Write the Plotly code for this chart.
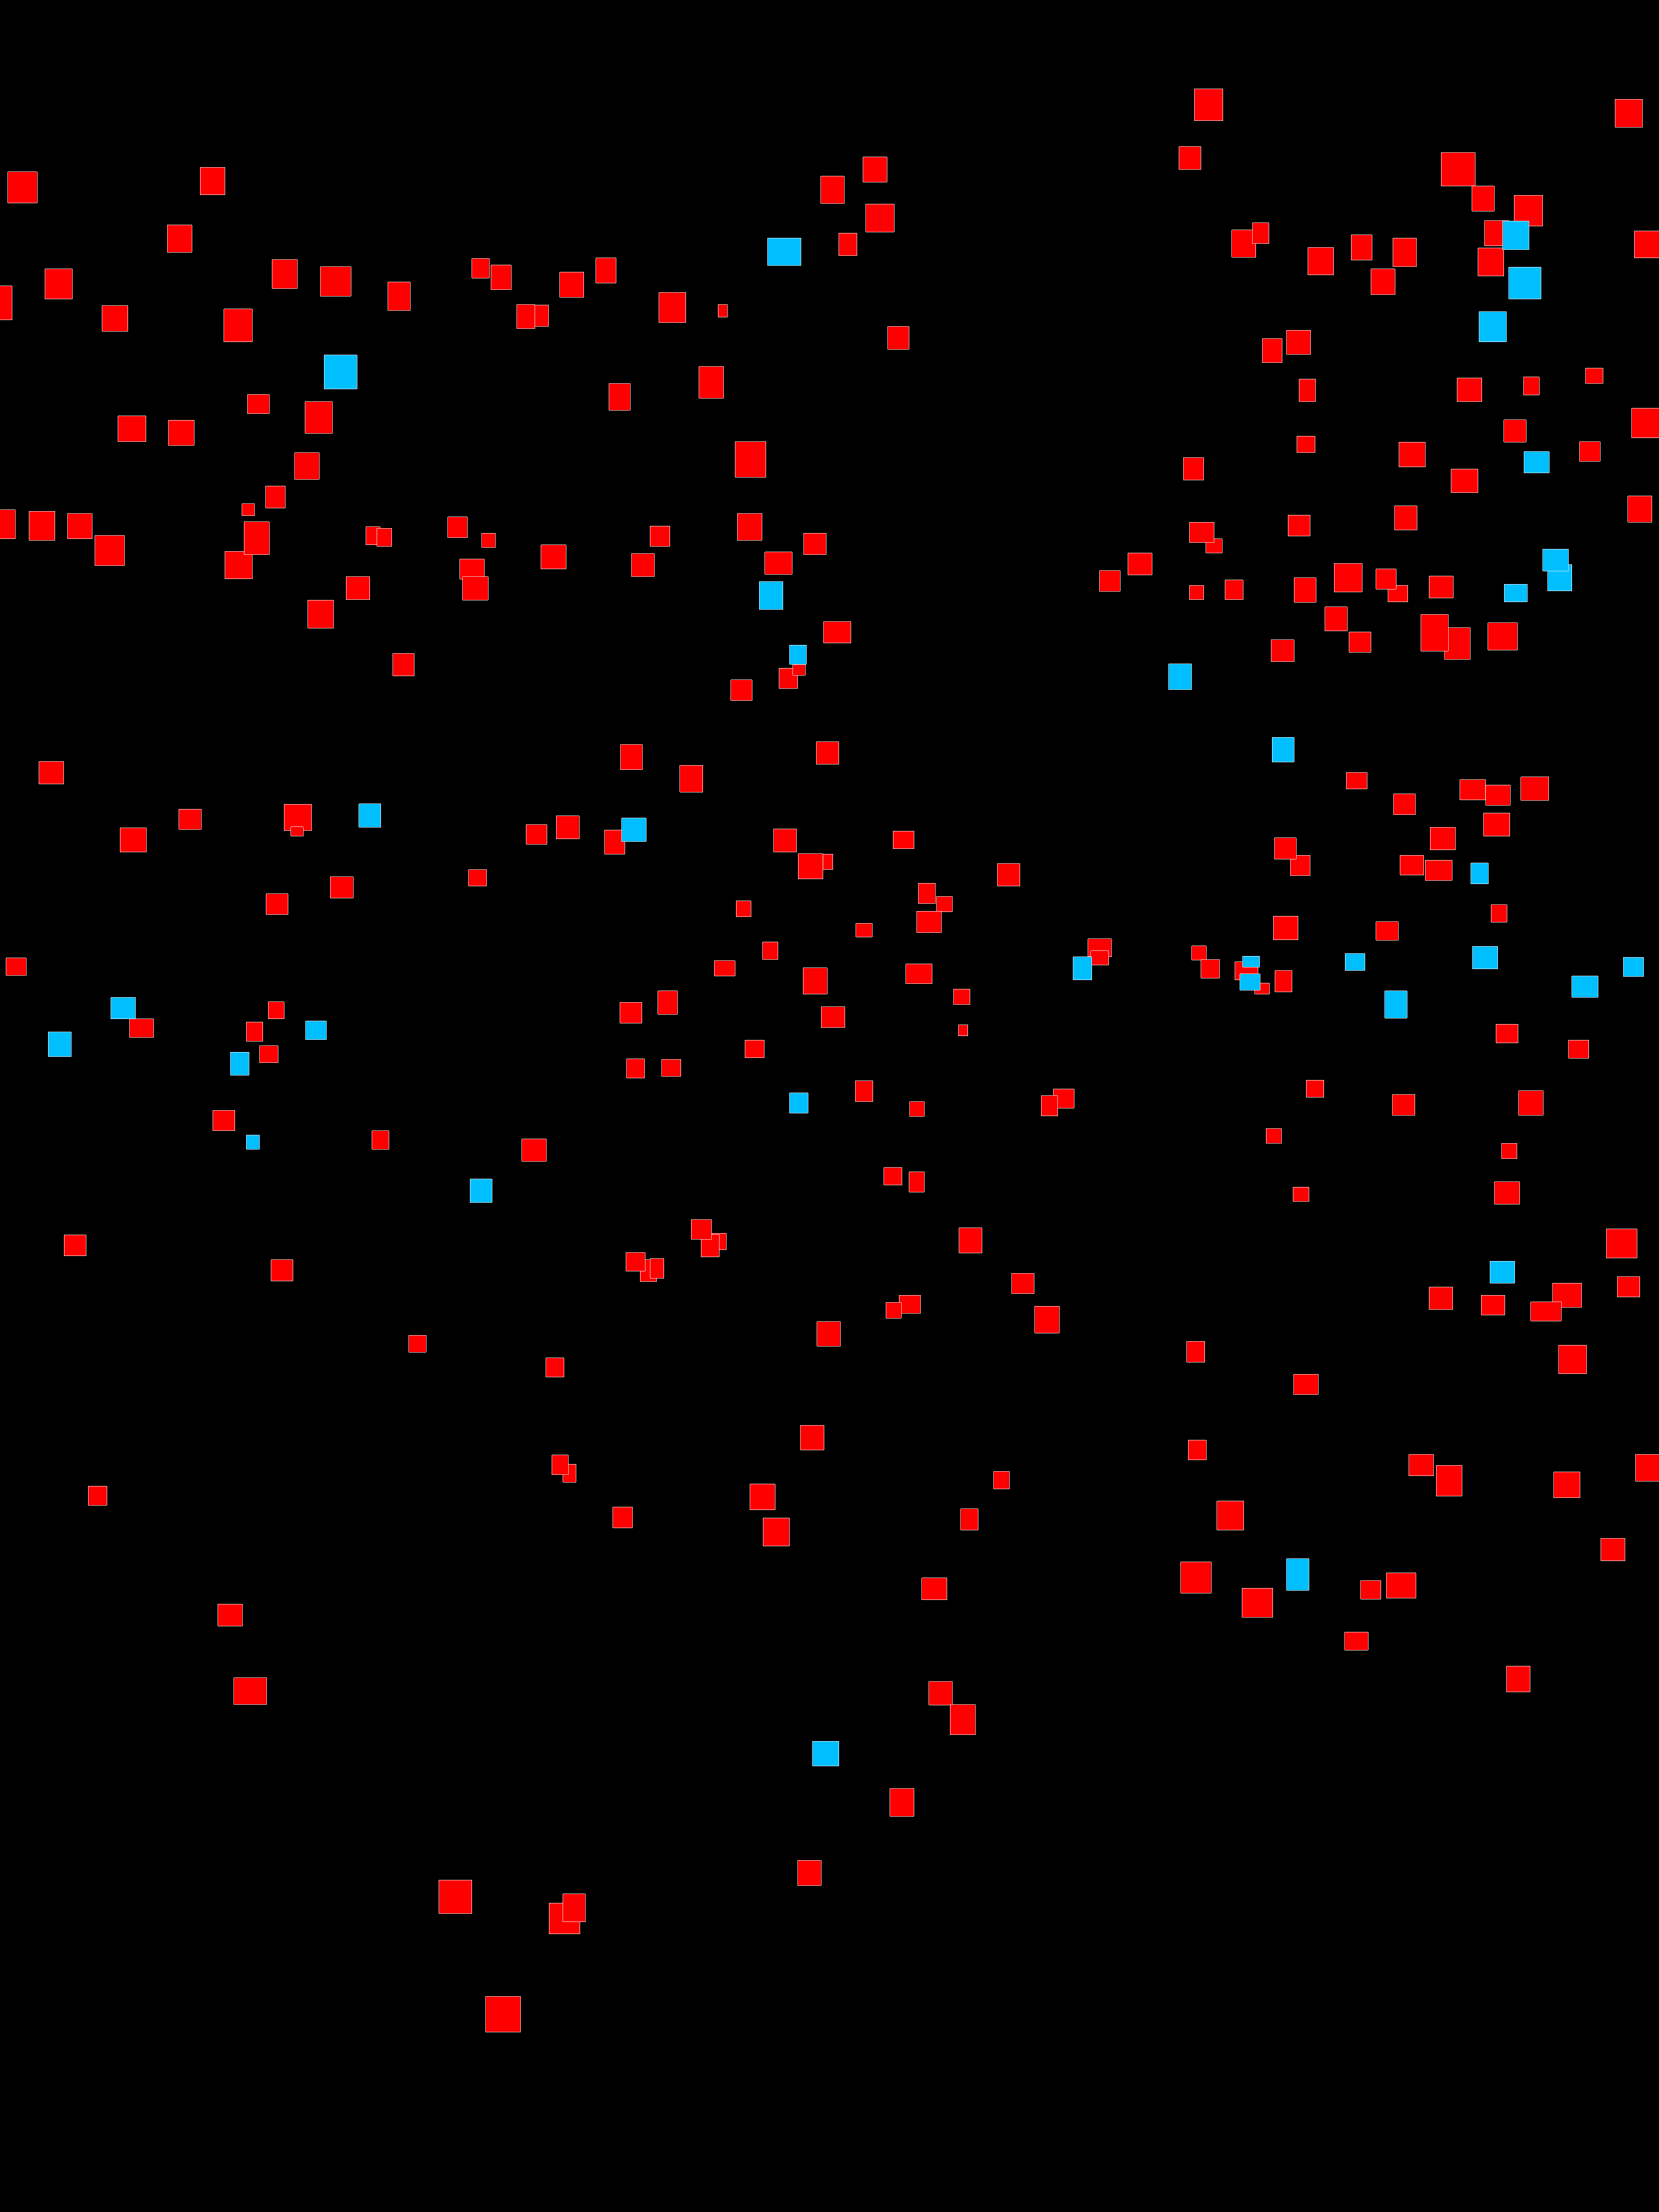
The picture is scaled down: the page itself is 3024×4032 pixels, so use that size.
import plotly.graph_objects as go

# ---- data: rectangles as (left, right, top, bottom) in chart units ----
red_left = [14, 365, 305, 82, -20, 186, 408, 496, 584, 707, 860, 895, 965, 942, 451, 556, 215, 307, 537, 484, 441,
            1573, 1496, 1578, 1529, 1086, 1020, 1201, 1309, 1618, 1274, 1110, 1340,
            2177, 2944, 2149, 2627, 2683, 2760, 2706, 2979, 2245, 2283, 2384, 2463, 2539, 2499, 2694, 2301, 2345,
            2368, 2656, 2777, 2890, 2974, 2741, 2879, 2364, 2550, 2157, 2645, 2967, 2542,
            -17, 53, 123, 173, 410, 445, 667, 687, 816, 878, 986, 838, 843, 631, 561, 716, 71, 326, 219, 518, 530,
            959, 854, 602, 485, 11, 489,
            1185, 1344, 1465, 1151, 1394, 2004, 1501, 1420, 1445, 1332, 1131, 1239, 1488, 1014, 1102, 1410, 1628,
            1500, 1455, 1818, 1674, 1707, 1671, 1342, 1560, 1390, 1302, 1464, 1651, 1983, 1988, 1738, 1130, 1199, 1497,
            2198, 2168, 2348, 2056, 2168, 2233, 2359, 2432, 2530, 2508, 2605, 2415, 2459, 2317, 2633, 2590, 2712,
            2454, 2540, 2661, 2708, 2772, 2704, 2607, 2352, 2323, 2552, 2598, 2718, 2321, 2508, 2172, 2189, 2251,
            2287, 2324,
            236, 449, 473, 1358, 1142, 1206, 388, 678, 951, 117, 494, 1298, 1278, 1260, 1167, 1141, 1185, 1489, 745,
            995, 1459, 1026, 1006, 161, 1367, 1117, 1391,
            1747, 2727, 2859, 1559, 1658, 1920, 1898, 2381, 2538, 2768, 2308, 2737, 1611, 1657, 2357, 2724, 1748,
            2928, 1844, 1639, 1615, 1886, 2605, 2700, 2830, 2790, 2948, 2163, 2358, 2841, 2166, 1811, 2568, 2618,
            2832, 2981, 2218, 1751,
            2918, 1680, 2152, 2264, 2480, 2527, 397, 2451, 2746, 426, 1693, 1732, 1622, 1454, 800, 1001, 1026, 885]
red_right = [68, 410, 350, 132, 22, 233, 460, 542, 640, 748, 892, 932, 1000, 975, 491, 606, 266, 354, 582, 520, 464,
             1617, 1539, 1630, 1562, 1123, 1064, 1250, 1326, 1657, 1319, 1149, 1396,
             2229, 2994, 2189, 2689, 2724, 2812, 2751, 3030, 2289, 2313, 2431, 2501, 2582, 2543, 2741, 2337, 2389,
             2398, 2701, 2806, 2922, 3030, 2782, 2917, 2397, 2598, 2194, 2694, 3011, 2583,
             28, 100, 168, 227, 460, 491, 693, 714, 852, 903, 1032, 883, 890, 674, 608, 755, 116, 367, 267, 568, 553,
             997, 887, 644, 525, 48, 518,
             1221, 1389, 1506, 1193, 1444, 2042, 1551, 1454, 1468, 1371, 1171, 1281, 1529, 1056, 1139, 1452, 1666,
             1518, 1500, 1859, 1705, 1736, 1716, 1369, 1590, 1418, 1340, 1508, 1699, 2026, 2021, 1768, 1170, 1235, 1540,
             2228, 2213, 2388, 2100, 2194, 2266, 2399, 2483, 2566, 2545, 2649, 2456, 2499, 2359, 2680, 2640, 2766,
             2492, 2580, 2708, 2753, 2823, 2752, 2653, 2388, 2363, 2595, 2647, 2747, 2366, 2549, 2199, 2223, 2293,
             2314, 2355,
             280, 479, 507, 1393, 1175, 1241, 428, 709, 996, 157, 534, 1324, 1311, 1297, 1197, 1176, 1210, 1532, 777,
             1028, 1502, 1050, 1036, 195, 1413, 1153, 1439,
             1764, 2767, 2896, 1591, 1685, 1958, 1928, 2413, 2579, 2813, 2336, 2765, 1644, 1685, 2386, 2770, 1790,
             2984, 1885, 1678, 1643, 1931, 2648, 2743, 2883, 2846, 2989, 2196, 2403, 2892, 2199, 1840, 2613, 2665,
             2880, 3030, 2267, 1783,
             2962, 1726, 2208, 2320, 2517, 2581, 442, 2494, 2789, 486, 1736, 1778, 1666, 1497, 860, 1057, 1067, 949]
red_top = [313, 305, 410, 490, 521, 557, 563, 473, 486, 514, 471, 483, 556, 555, 719, 732, 758, 766, 825, 886, 918,
           286, 321, 372, 425, 470, 496, 533, 555, 595, 668, 699, 805,
           162, 181, 267, 278, 339, 356, 402, 421, 419, 406, 451, 428, 434, 490, 452, 617, 602,
           691, 689, 687, 671, 744, 765, 805, 795, 806, 834, 855, 904, 922,
           929, 932, 936, 976, 1005, 951, 960, 963, 942, 972, 993, 1019, 1051, 1051, 1094, 1191, 1388, 1475, 1509,
           1466, 1507, 1503, 1585, 1598, 1629, 1746, 1826,
           959, 936, 972, 1009, 1006, 1040, 1133, 1218, 1211, 1239, 1357, 1395, 1352, 1487, 1513, 1511, 1515,
           1557, 1556, 1574, 1610, 1634, 1661, 1642, 1683, 1717, 1751, 1764, 1757, 1711, 1733, 1803, 1827, 1806, 1835,
           982, 952, 939, 1008, 1067, 1057, 1053, 1027, 1067, 1037, 1050, 1106, 1152, 1166, 1144, 1120, 1135,
           1408, 1447, 1421, 1431, 1416, 1482, 1508, 1559, 1527, 1559, 1568, 1649, 1670, 1680, 1724, 1749, 1753,
           1792, 1769,
           1857, 1863, 1906, 1896, 1930, 1931, 2024, 2061, 2076, 2251, 2296, 2248, 2250, 2223, 2296, 2283, 2294,
           2409, 2434, 2475, 2598, 2669, 2652, 2709, 2705, 2747, 2767,
           1868, 1867, 1896, 1970, 2008, 1985, 1997, 1969, 1995, 1988, 2057, 2084, 2128, 2136, 2164, 2154, 2238,
           2240, 2321, 2361, 2374, 2381, 2346, 2361, 2339, 2373, 2327, 2445, 2505, 2452, 2625, 2682, 2651, 2671,
           2683, 2651, 2736, 2750,
           2804, 2876, 2847, 2895, 2881, 2867, 2924, 2975, 3037, 3058, 3065, 3107, 3260, 3391, 3427, 3469, 3452, 3639]
red_bottom = [370, 355, 460, 545, 583, 604, 623, 526, 540, 566, 507, 528, 595, 599, 754, 790, 805, 812, 874, 926,
              940,
              332, 371, 423, 466, 516, 542, 588, 578, 637, 726, 748, 870,
              220, 232, 309, 339, 385, 412, 448, 470, 469, 444, 501, 474, 486, 537, 503, 661, 646,
              732, 732, 720, 699, 798, 806, 841, 825, 851, 875, 898, 952, 966,
              982, 985, 982, 1031, 1055, 1011, 993, 996, 980, 998, 1037, 1056, 1094, 1093, 1145, 1232, 1429, 1512,
              1553, 1514, 1524, 1539, 1615, 1637, 1667, 1778, 1857,
              996, 985, 1011, 1051, 1047, 1078, 1172, 1255, 1231, 1277, 1403, 1444, 1393, 1529, 1557, 1553, 1547,
              1585, 1602, 1615, 1647, 1662, 1700, 1671, 1708, 1749, 1779, 1812, 1793, 1744, 1759, 1831, 1865, 1849,
              1873,
              1008, 989, 977, 1048, 1093, 1093, 1098, 1079, 1097, 1074, 1090, 1150, 1189, 1206, 1202, 1187, 1185,
              1438, 1485, 1458, 1468, 1459, 1524, 1549, 1596, 1566, 1595, 1605, 1681, 1713, 1714, 1750, 1783, 1786,
              1812, 1808,
              1891, 1898, 1937, 1928, 1965, 1962, 2061, 2095, 2117, 2289, 2335, 2278, 2291, 2259, 2336, 2317, 2330,
              2454, 2465, 2510, 2643, 2702, 2688, 2744, 2752, 2785, 2818,
              1888, 1901, 1929, 2008, 2035, 2020, 2034, 2000, 2033, 2033, 2084, 2112, 2160, 2173, 2190, 2195, 2284,
              2293, 2358, 2394, 2403, 2430, 2387, 2397, 2383, 2408, 2364, 2483, 2542, 2504, 2661, 2714, 2690, 2727,
              2730, 2700, 2789, 2789,
              2845, 2916, 2904, 2948, 2915, 2913, 2964, 3008, 3084, 3107, 3108, 3162, 3311, 3437, 3488, 3525, 3503,
              3704]

blue_left = [591, 1399, 2739, 2750, 2696, 2778, 654, 202, 1384, 1439, 1133, 1956, 2742, 2821, 2812, 2130, 2319,
             2681, 2265, 2260, 2452, 2684, 2959, 2865, 2524, 88, 557, 420, 1439, 449, 857, 2716, 2345, 1481]
blue_right = [651, 1460, 2787, 2809, 2746, 2824, 694, 247, 1427, 1470, 1178, 1990, 2784, 2865, 2859, 2172, 2359,
              2713, 2296, 2297, 2488, 2730, 2996, 2913, 2565, 130, 595, 454, 1473, 473, 897, 2761, 2386, 1529]
blue_top = [647, 434, 403, 487, 568, 823, 1465, 1818, 1060, 1176, 1491, 1744, 1065, 1029, 1001, 1210, 1344,
            1573, 1743, 1775, 1738, 1725, 1745, 1779, 1806, 1881, 1861, 1918, 1992, 2069, 2149, 2299, 2841, 3174]
blue_bottom = [709, 484, 455, 545, 623, 862, 1508, 1857, 1111, 1211, 1534, 1786, 1097, 1077, 1041, 1257, 1389,
               1611, 1763, 1805, 1769, 1766, 1780, 1818, 1856, 1926, 1895, 1960, 2029, 2095, 2192, 2339, 2899, 3219]

RED = "#FF0000"
BLUE = "#00BFFF"
EDGE = "rgba(235,235,235,0.85)"


def bar_trace(left, right, top, bottom, color):
    xs = [(l + r) / 2 for l, r in zip(left, right)]
    ws = [r - l for l, r in zip(left, right)]
    hs = [b - t for t, b in zip(top, bottom)]
    return go.Bar(
        x=xs, y=hs, base=top, width=ws,
        marker=dict(color=color, line=dict(color=EDGE, width=1)),
        hoverinfo="skip", showlegend=False,
    )


fig = go.Figure()
fig.add_trace(bar_trace(red_left, red_right, red_top, red_bottom, RED))
fig.add_trace(bar_trace(blue_left, blue_right, blue_top, blue_bottom, BLUE))

fig.update_layout(
    width=3024, height=4032,
    margin=dict(l=0, r=0, t=0, b=0, pad=0),
    paper_bgcolor="black", plot_bgcolor="black",
    barmode="overlay",
    showlegend=False,
    xaxis=dict(range=[0, 3024], visible=False, showgrid=False, zeroline=False, fixedrange=True),
    yaxis=dict(range=[4032, 0], visible=False, showgrid=False, zeroline=False, fixedrange=True),
)

fig.write_html(
    "out.html",
    config={"displayModeBar": False},
    post_script="document.body.style.margin='0';document.body.style.background='#000';",
)
